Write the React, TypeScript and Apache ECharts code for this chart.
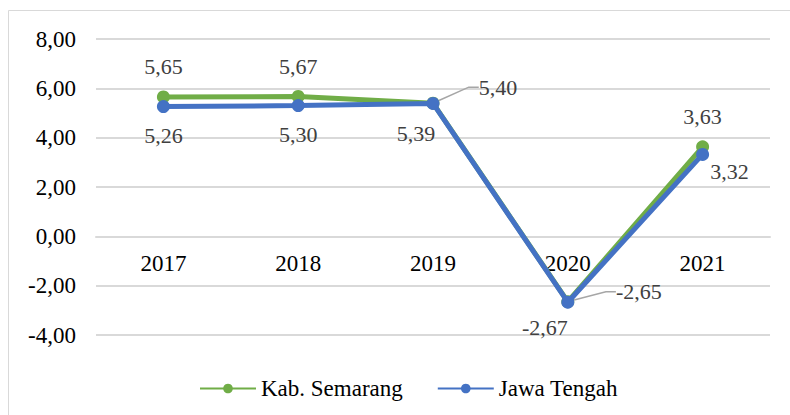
import React, { useEffect, useRef } from "react";
import * as echarts from "echarts";

const categories = ["2017", "2018", "2019", "2020", "2021"];
const semarang = [5.65, 5.67, 5.4, -2.65, 3.63];
const jateng = [5.26, 5.3, 5.39, -2.67, 3.32];
const yTicks = { min: -4, max: 8, interval: 2 };

const FONT = "Times New Roman, Liberation Serif, DejaVu Serif, serif";
const fmt = (v: number) => v.toFixed(2).replace(".", ",");

// label placement per point (px relative to the point's centre)
const semLabelShift: [number, number][] = [
  [0, -30],
  [0, -30],
  [65, -16],
  [71, -10],
  [0, -30],
];
const jatLabelShift: [number, number][] = [
  [0, 29],
  [0, 29],
  [-17, 30],
  [-23, 25],
  [27, 17],
];
const semLeader = [false, false, true, true, false];

const GRID = { left: 96, right: 20, top: 39, bottom: 80 };
const H = 415;

export default function App() {
  const ref = useRef<HTMLDivElement>(null);
  useEffect(() => {
    if (!ref.current) return;
    const chart = echarts.init(ref.current, null, { renderer: "svg" });
    const plotH = H - GRID.top - GRID.bottom;
    // place the category axis on the value 0 (as in the original)
    const zeroFromBottom = ((0 - yTicks.min) / (yTicks.max - yTicks.min)) * plotH;
    const labelBase = {
      show: true,
      position: "inside",
      color: "#404040",
      fontFamily: FONT,
      fontSize: 22,
      formatter: (p: any) => fmt(p.value),
    };
    chart.setOption({
      animation: false,
      backgroundColor: "#fff",
      textStyle: { fontFamily: FONT },
      graphic: [
        {
          type: "rect",
          shape: { x: 8.5, y: 10.5, width: 800, height: 420 },
          style: { fill: "none", stroke: "#d9d9d9", lineWidth: 1 },
          silent: true,
        },
      ],
      grid: { ...GRID, containLabel: false },
      legend: {
        top: 372,
        left: 194,
        itemWidth: 56,
        itemHeight: 12,
        itemGap: 34,
        textStyle: { fontFamily: FONT, fontSize: 23, color: "#000" },
        data: ["Kab. Semarang", "Jawa Tengah"],
      },
      xAxis: {
        type: "category",
        data: categories,
        boundaryGap: true,
        position: "bottom",
        offset: -zeroFromBottom,
        axisLine: {
          show: true,
          onZero: false,
          lineStyle: { color: "#d9d9d9", width: 2 },
        },
        axisTick: { show: false },
        axisLabel: { fontFamily: FONT, fontSize: 23, color: "#000", margin: 16 },
        splitLine: { show: false },
      },
      yAxis: {
        type: "value",
        min: yTicks.min,
        max: yTicks.max,
        interval: yTicks.interval,
        axisLine: { show: false },
        axisTick: { show: false },
        axisLabel: {
          fontFamily: FONT,
          fontSize: 23,
          color: "#000",
          margin: 20,
          formatter: (v: number) => fmt(v),
        },
        splitLine: { lineStyle: { color: "#d9d9d9", width: 2 } },
      },
      series: [
        {
          name: "Kab. Semarang",
          type: "line",
          data: semarang.map((v, i) => ({
            value: v,
            label: { ...labelBase },
            labelLine: semLeader[i]
              ? { show: true, length2: 10, lineStyle: { color: "#a6a6a6", width: 1.5 } }
              : { show: false },
          })),
          labelLayout: (p: any) => ({
            dx: semLabelShift[p.dataIndex][0],
            dy: semLabelShift[p.dataIndex][1],
          }),
          color: "#70AD47",
          symbol: "circle",
          symbolSize: 13,
          lineStyle: { width: 5, color: "#70AD47" },
          itemStyle: { color: "#70AD47" },
          z: 2,
        },
        {
          name: "Jawa Tengah",
          type: "line",
          data: jateng.map((v) => ({
            value: v,
            label: { ...labelBase },
          })),
          labelLayout: (p: any) => ({
            dx: jatLabelShift[p.dataIndex][0],
            dy: jatLabelShift[p.dataIndex][1],
          }),
          color: "#4472C4",
          symbol: "circle",
          symbolSize: 13,
          lineStyle: { width: 5, color: "#4472C4" },
          itemStyle: { color: "#4472C4" },
          z: 3,
        },
      ],
    });
    return () => chart.dispose();
  }, []);
  return (
    <div
      ref={ref}
      style={{ position: "fixed", left: 0, top: 0, width: 790, height: 415 }}
    />
  );
}
